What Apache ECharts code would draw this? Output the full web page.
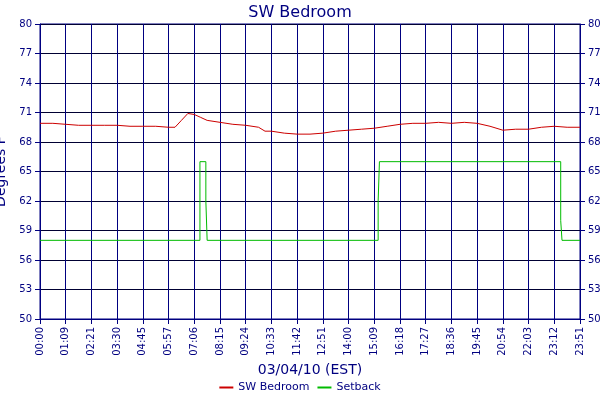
<!DOCTYPE html>
<html><head><meta charset="utf-8">
<script src="https://cdn.jsdelivr.net/npm/echarts@6/dist/echarts.min.js"></script>
<style>html,body{margin:0;padding:0;background:#fff}#c{width:600px;height:400px}</style>
</head><body><div id="c"></div>
<script>
var timeLabels=["00:00","01:09","02:21","03:30","04:45","05:57","07:06","08:15","09:24","10:33","11:42","12:51","14:00","15:09","16:18","17:27","18:36","19:45","20:54","22:03","23:12","23:51"];
var yTicks=[50,53,56,59,62,65,68,71,74,77,80];
var bedroom=[[0,69.9],[0.5,69.9],[1,69.8],[1.5,69.7],[2,69.7],[2.5,69.7],[3,69.7],[3.5,69.6],[4,69.6],[4.5,69.6],[5,69.5],[5.25,69.5],[5.5,70.2],[5.75,70.9],[6,70.8],[6.25,70.5],[6.5,70.2],[7,70.0],[7.5,69.8],[8,69.7],[8.5,69.5],[8.75,69.1],[9,69.1],[9.5,68.9],[10,68.8],[10.5,68.8],[11,68.9],[11.5,69.1],[12,69.2],[12.5,69.3],[13,69.4],[13.5,69.6],[14,69.8],[14.5,69.9],[15,69.9],[15.5,70.0],[16,69.9],[16.5,70.0],[17,69.9],[17.5,69.6],[18,69.2],[18.5,69.3],[19,69.3],[19.5,69.5],[20,69.6],[20.5,69.5],[21,69.5]];
var setback=[[0,58],[6.22,58],[6.22,66],[6.45,66],[6.45,62],[6.5,62],[6.5,58],[13.15,58],[13.15,62],[13.2,62],[13.2,66],[20.25,66],[20.25,60],[20.3,60],[20.3,58],[21,58]];
var navy='#000080';
var yAx=function(pos){return {type:'value',position:pos,min:50,max:80,interval:3,
 axisLine:{show:true,lineStyle:{color:navy}},axisTick:{show:true,lineStyle:{color:navy}},
 axisLabel:{color:navy,fontSize:10,fontFamily:'Verdana, DejaVu Sans'},
 splitLine:{show:pos==='left',lineStyle:{color:'#000033',width:1}}};};
var ch=echarts.init(document.getElementById('c'));
ch.setOption({
 animation:false,backgroundColor:'#fff',
 title:{text:'SW Bedroom',left:'center',top:0,textStyle:{color:navy,fontSize:16,fontWeight:'normal',fontFamily:'Verdana, DejaVu Sans'}},
 grid:{left:40,right:20,top:24,bottom:81,show:true,borderColor:navy,containLabel:false,outerBoundsMode:'none'},
 legend:{bottom:2,itemWidth:14,itemHeight:2,icon:'rect',textStyle:{color:navy,fontSize:11,fontFamily:'Verdana, DejaVu Sans'},data:['SW Bedroom','Setback']},
 xAxis:{type:'value',min:0,max:21,interval:1,name:'03/04/10 (EST)',nameLocation:'middle',nameGap:42,
  nameTextStyle:{color:navy,fontSize:14,fontFamily:'Verdana, DejaVu Sans'},
  axisLine:{lineStyle:{color:navy}},axisTick:{lineStyle:{color:navy}},
  axisLabel:{rotate:90,color:navy,fontSize:10,fontFamily:'Verdana, DejaVu Sans',formatter:function(v){return timeLabels[Math.round(v)];}},
  splitLine:{show:true,lineStyle:{color:navy,width:1}}},
 yAxis:[Object.assign(yAx('left'),{name:'Degrees F',nameLocation:'middle',nameGap:26,nameTextStyle:{color:navy,fontSize:14,fontFamily:'Verdana, DejaVu Sans'}}),yAx('right')],
 series:[
  {name:'SW Bedroom',type:'line',data:bedroom,showSymbol:false,lineStyle:{color:'#cc0000',width:1},itemStyle:{color:'#cc0000'}},
  {name:'Setback',type:'line',data:setback,showSymbol:false,lineStyle:{color:'#00bb00',width:1},itemStyle:{color:'#00bb00'}}
 ]
});
</script></body></html>
